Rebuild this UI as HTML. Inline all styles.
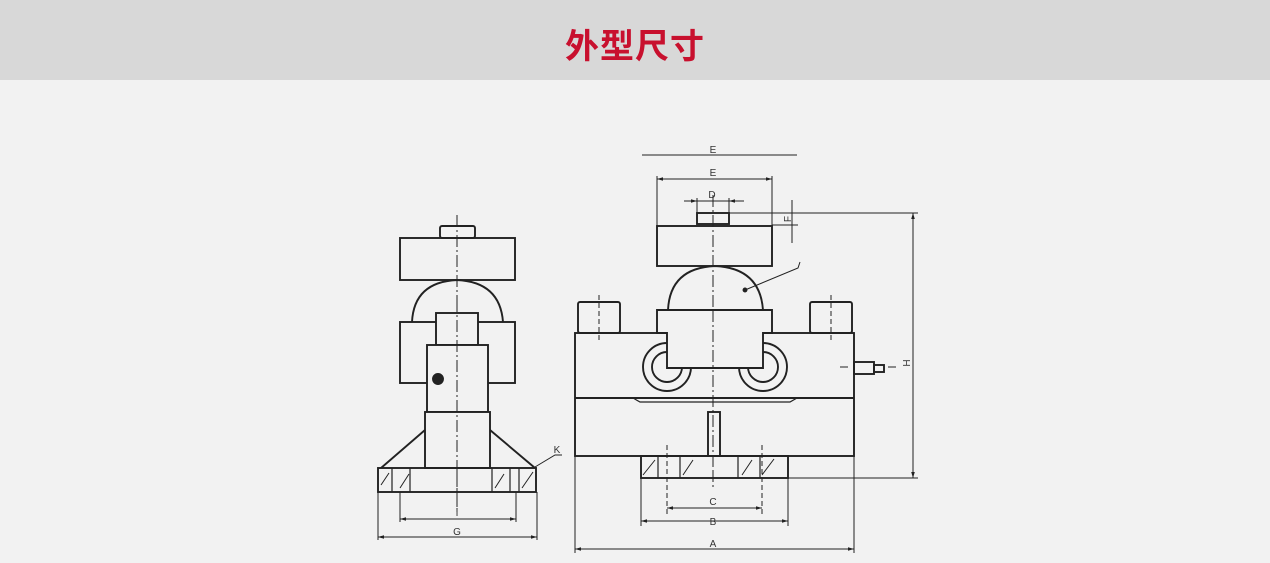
<!DOCTYPE html>
<html><head><meta charset="utf-8"><style>
body{margin:0;width:1270px;height:563px;background:#f2f2f2;overflow:hidden}
.h{position:absolute;left:0;top:0;width:1270px;height:80px;background:#d8d8d8}
.t{position:absolute;left:0;width:1270px;top:19px;text-align:center;font:bold 34px "Liberation Sans","Noto Sans CJK SC",sans-serif;color:#c8102e;letter-spacing:1px}
svg{position:absolute;left:0;top:0}
</style></head><body>
<div class="h"></div><div class="t">外型尺寸</div>
<svg width="1270" height="563" font-family="Liberation Sans, sans-serif" font-size="10" fill="none" stroke="#222" stroke-width="1.9">
<defs><marker id="a" viewBox="0 0 10 10" refX="10" refY="5" markerWidth="6" markerHeight="6" orient="auto-start-reverse"><path d="M0,2L10,5L0,8z" fill="#222" stroke="none"/></marker></defs>
<!-- LEFT VIEW -->
<g>
<line x1="457" y1="215" x2="457" y2="515" stroke-width="1" stroke-dasharray="12,3,2,3"/>
<rect x="440" y="226" width="35" height="12" rx="2"/>
<rect x="400" y="238" width="115" height="42"/>
<path d="M412,322 Q414,282 457,280 Q500,282 503,322"/>
<rect x="400" y="322" width="115" height="61"/>
<rect x="436" y="313" width="42" height="32" fill="#f2f2f2"/>
<rect x="427" y="345" width="61" height="67" fill="#f2f2f2"/>
<rect x="425" y="412" width="65" height="56" fill="#f2f2f2"/>
<circle cx="438" cy="379" r="5" fill="#222"/>
<line x1="457" y1="300" x2="457" y2="468" stroke-width="1" stroke-dasharray="12,3,2,3"/>
<path d="M425,430 L381,468 M490,430 L535,468"/>
<rect x="378" y="468" width="158" height="24"/>
<path d="M392,468v24M410,468v24M492,468v24M510,468v24M519,468v24" stroke-width="1.2"/>
<path d="M381,485l8-12M400,488l9-14M495,488l9-14M522,488l11-16" stroke-width="1"/>
<line x1="457" y1="468" x2="457" y2="512" stroke-width="1" stroke-dasharray="12,3,2,3"/>
<path d="M400,492v30M516,492v30M378,492v48M537,492v48" stroke-width="1"/>
<line x1="400" y1="519" x2="516" y2="519" stroke-width="1" marker-start="url(#a)" marker-end="url(#a)"/>
<line x1="378" y1="537" x2="537" y2="537" stroke-width="1" marker-start="url(#a)" marker-end="url(#a)"/>
<path d="M535,467 L555,455 L562,455" stroke-width="1"/>
</g>
<!-- RIGHT VIEW -->
<g>
<line x1="642" y1="155" x2="797" y2="155" stroke-width="1"/>
<path d="M657,176v50M772,176v50" stroke-width="1"/>
<line x1="657" y1="179" x2="772" y2="179" stroke-width="1" marker-start="url(#a)" marker-end="url(#a)"/>
<path d="M684,201h60M697,198v16M729,198v16" stroke-width="1"/>
<line x1="684" y1="201" x2="697" y2="201" stroke-width="1" marker-end="url(#a)"/>
<line x1="744" y1="201" x2="729" y2="201" stroke-width="1" marker-end="url(#a)"/>
<rect x="697" y="213" width="32" height="11"/>
<rect x="657" y="226" width="115" height="40"/>
<line x1="713" y1="195" x2="713" y2="470" stroke-width="1" stroke-dasharray="12,3,2,3"/>
<path d="M668,310 Q670,268 715,266 Q760,268 763,310"/>
<circle cx="745" cy="290" r="1.5" fill="#222"/>
<path d="M745,290 L798,268 L800,262" stroke-width="1"/>
<rect x="578" y="302" width="42" height="31" rx="2"/>
<rect x="810" y="302" width="42" height="31" rx="2"/>
<path d="M599,295v45M831,295v45" stroke-width="1" stroke-dasharray="5,3"/>
<rect x="575" y="333" width="279" height="123"/>
<line x1="575" y1="398" x2="854" y2="398"/>
<path d="M633,398 L640,402 L790,402 L797,398" stroke-width="1.2"/>
<circle cx="667" cy="367" r="24"/><circle cx="667" cy="367" r="15"/>
<circle cx="763" cy="367" r="24"/><circle cx="763" cy="367" r="15"/>
<path d="M657,310 H772 V333 H763 V368 H667 V333 H657 Z" fill="#f2f2f2"/>
<line x1="713" y1="310" x2="713" y2="368" stroke-width="1" stroke-dasharray="12,3,2,3"/>
<rect x="854" y="362" width="20" height="12"/>
<rect x="874" y="365" width="10" height="7"/>
<path d="M840,367h8M888,367h8" stroke-width="1"/>
<rect x="708" y="412" width="12" height="44"/>
<rect x="641" y="456" width="147" height="22"/>
<path d="M658,456v22M680,456v22M738,456v22M760,456v22" stroke-width="1.2"/>
<path d="M643,475l12-15M683,475l10-15M742,475l10-15M762,475l12-16" stroke-width="1"/>
<path d="M667,445v70M762,445v70" stroke-width="1" stroke-dasharray="5,3"/>
<line x1="713" y1="470" x2="713" y2="490" stroke-width="1" stroke-dasharray="12,3,2,3"/>
<path d="M729,213H918M788,478H918M641,478v48M788,478v48M575,456v97M854,456v97" stroke-width="1"/>
<line x1="913" y1="213" x2="913" y2="478" stroke-width="1" marker-start="url(#a)" marker-end="url(#a)"/>
<path d="M772,225H798M792,200v43" stroke-width="1"/>
<line x1="667" y1="508" x2="762" y2="508" stroke-width="1" marker-start="url(#a)" marker-end="url(#a)"/>
<line x1="641" y1="521" x2="788" y2="521" stroke-width="1" marker-start="url(#a)" marker-end="url(#a)"/>
<line x1="575" y1="549" x2="854" y2="549" stroke-width="1" marker-start="url(#a)" marker-end="url(#a)"/>
</g>
<g fill="#333" stroke="none" text-anchor="middle">
<text x="713" y="153">E</text><text x="713" y="176">E</text><text x="712" y="198">D</text>
<text x="713" y="505">C</text><text x="713" y="525">B</text><text x="713" y="547">A</text>
<text x="457" y="516">I</text><text x="457" y="535">G</text><text x="557" y="453">K</text>
<text x="788" y="222" transform="rotate(-90 788 219)">F</text>
<text x="907" y="366" transform="rotate(-90 907 363)">H</text>
</g>
</svg>
</body></html>
